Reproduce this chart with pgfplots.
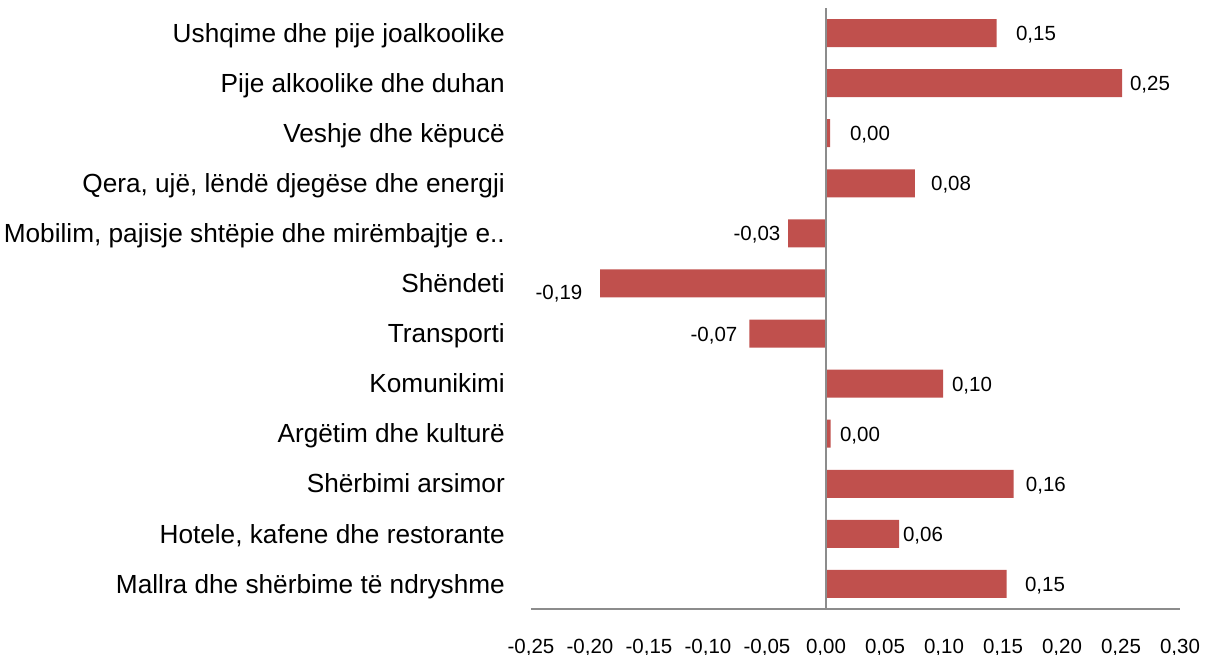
\documentclass[border=0pt]{standalone}
\usepackage{pgfplots}
\pgfplotsset{compat=1.18}
\usepackage{pgfplotstable}
\usepackage{fontspec}
\setmainfont{Liberation Sans}
\definecolor{barred}{HTML}{C0504D}
\definecolor{axgray}{HTML}{8C8C8C}
\pgfplotstableread{
y val lx ly lab
0 0.1445 0.178 0 {0,15}
1 0.2510 0.2746 1 {0,25}
2 0.0034 0.0373 2 {0,00}
3 0.0754 0.1060 3 {0,08}
4 -0.0320 -0.0585 4 {-0,03}
5 -0.1915 -0.2263 5.17 {-0,19}
6 -0.0650 -0.0949 6 {-0,07}
7 0.0992 0.1237 7 {0,10}
8 0.0040 0.0288 8 {0,00}
9 0.1590 0.1864 9 {0,16}
10 0.0620 0.0822 10 {0,06}
11 0.1530 0.1856 11 {0,15}
}\data
\begin{document}
\begin{tikzpicture}
\useasboundingbox (-531bp,-46bp) rectangle (675bp,609bp);
\begin{axis}[
  at={(0,0)}, anchor=south west,
  scale only axis,
  width=649bp, height=601bp,
  xmin=-0.25, xmax=0.30,
  ymin=-0.5, ymax=11.5,
  y dir=reverse,
  axis line style={draw=none},
  major tick length=0pt,
  xtick={-0.25,-0.20,-0.15,-0.10,-0.05,0,0.05,0.10,0.15,0.20,0.25,0.30},
  xticklabels={{-0,25},{-0,20},{-0,15},{-0,10},{-0,05},{0,00},{0,05},{0,10},{0,15},{0,20},{0,25},{0,30}},
  xticklabel style={font=\fontsize{20.5bp}{24bp}\selectfont, anchor=base, inner sep=0pt, yshift=-44bp},
  ytick={0,...,11},
  yticklabels={
    {Ushqime dhe pije joalkoolike},
    {Pije alkoolike dhe duhan},
    {Veshje dhe këpucë},
    {Qera, ujë, lëndë djegëse dhe energji},
    {Mobilim, pajisje shtëpie dhe mirëmbajtje e..},
    {Shëndeti},
    {Transporti},
    {Komunikimi},
    {Argëtim dhe kulturë},
    {Shërbimi arsimor},
    {Hotele, kafene dhe restorante},
    {Mallra dhe shërbime të ndryshme}},
  yticklabel style={font=\fontsize{26.2bp}{30bp}\selectfont, anchor=base east, inner sep=0pt, xshift=-26bp, yshift=-9.2bp},
  clip=false,
]
\addplot[xbar, bar width=28bp, bar shift=0pt, fill=barred, draw=none] table[x=val, y=y] {\data};
\addplot[draw=none, mark=none, nodes near coords, point meta=explicit symbolic,
  every node near coord/.style={anchor=base, inner sep=0pt, yshift=-7.6bp, font=\fontsize{20.5bp}{24bp}\selectfont, text=black}]
  table[x=lx, y=ly, meta=lab] {\data};
\draw[axgray, line width=1.3bp] (rel axis cs:0,0) -- (rel axis cs:1,0);
\draw[axgray, line width=1.3bp] (axis cs:0,-0.5) -- (axis cs:0,11.5);
\end{axis}
\end{tikzpicture}
\end{document}
